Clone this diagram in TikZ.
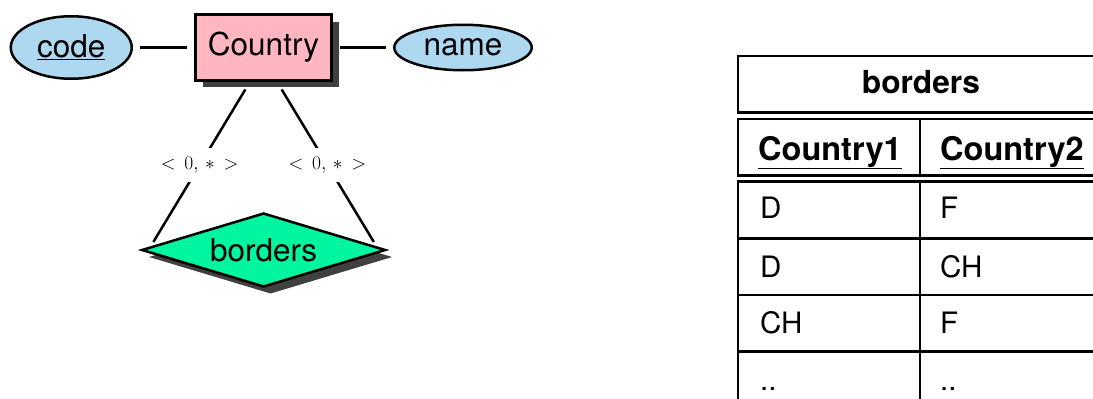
\documentclass[tikz,border=0pt]{standalone}
\usepackage{fix-cm}
\usepackage{fontspec}
\setmainfont{TeX Gyre Heros}
\usetikzlibrary{shapes.geometric,shadows}
\definecolor{attrblue}{RGB}{173,216,240}
\definecolor{entpink}{RGB}{255,182,193}
\definecolor{relgreen}{RGB}{0,245,160}
\definecolor{shadowgray}{RGB}{64,64,64}
\begin{document}
\begin{tikzpicture}[x=1pt,y=-1pt,
  big/.style={font=\fontsize{31.5}{36}\selectfont},
  solidshadow/.style={drop shadow={opacity=1, fill=shadowgray, shadow xshift=7pt, shadow yshift=-7pt}},
  attr/.style={ellipse, draw, line width=2.5pt, fill=attrblue, inner sep=0pt, big},
  entity/.style={rectangle, draw, line width=3pt, fill=entpink, inner sep=0pt, big, solidshadow},
  relship/.style={diamond, draw, line width=2.5pt, fill=relgreen, inner sep=0pt, big, aspect=3.3, solidshadow},
  conn/.style={line width=2.5pt},
  card/.style={fill=white, inner xsep=3pt, inner ysep=9pt, font=\fontsize{19.5}{22}\selectfont},
  tline/.style={line width=2.5pt},
  tcell/.style={anchor=base west, inner sep=0pt, font=\fontsize{29.5}{34}\selectfont},
  thead/.style={anchor=base west, inner sep=0pt, font=\bfseries\fontsize{32.5}{36}\selectfont},
  ttitle/.style={anchor=base, inner sep=0pt, font=\bfseries\fontsize{31.7}{36}\selectfont},
]
\clip (0,0) rectangle (1093,399);

% ER diagram
\node[attr, minimum width=121pt, minimum height=62.5pt] (code) at (71.25,47.5) {\underline{code}};
\node[entity, minimum width=136pt, minimum height=65.5pt] (Country) at (263.5,47.5) {Country};
\node[attr, minimum width=137.5pt, minimum height=45.5pt] (name) at (463,47.5) {name};
\node[relship, minimum width=244pt, minimum height=74pt] (borders) at (263.6,250) {borders};

\draw[conn, shorten <=7pt, shorten >=7pt] (code) -- (Country);
\draw[conn, shorten <=7pt, shorten >=7pt] (Country) -- (name);

\draw[conn, shorten <=9pt] ([xshift=-13.5pt]Country.south) -- node[card, pos=0.52] (c1) {$<\,0,\,*\,>$} ([xshift=13pt,yshift=8pt]borders.west);
\draw[conn, shorten <=9pt] ([xshift=13.5pt]Country.south) -- node[card, pos=0.52] (c2) {$<\,0,\,*\,>$} ([xshift=-13pt,yshift=8pt]borders.east);

% Table
\draw[tline] (738,56) rectangle (1104,112.3);
\node[ttitle] (ttl) at (921,93.3) {borders};
\draw[tline] (738,119) rectangle (1104,175.7);
\draw[tline] (920,119) -- (920,175.7);
\node[thead] (h1) at (758,160) {\underline{Country1}};
\node[thead] (h2) at (940,160) {\underline{Country2}};
\draw[tline] (738,181.7) rectangle (1104,420);
\draw[tline] (920,181.7) -- (920,420);
\foreach \yy in {238.3,295,351.7} \draw[tline] (738,\yy) -- (1104,\yy);
\node[tcell] (r1a) at (760,218.3) {D};
\node[tcell] (r1b) at (940,218.3) {F};
\node[tcell] (r2a) at (760,277.3) {D};
\node[tcell] (r2b) at (940,277.3) {CH};
\node[tcell] (r3a) at (760,333.3) {CH};
\node[tcell] (r3b) at (940,333.3) {F};
\node[tcell] (r4a) at (760,390.5) {..};
\node[tcell] (r4b) at (940,390.5) {..};
\end{tikzpicture}
\end{document}
